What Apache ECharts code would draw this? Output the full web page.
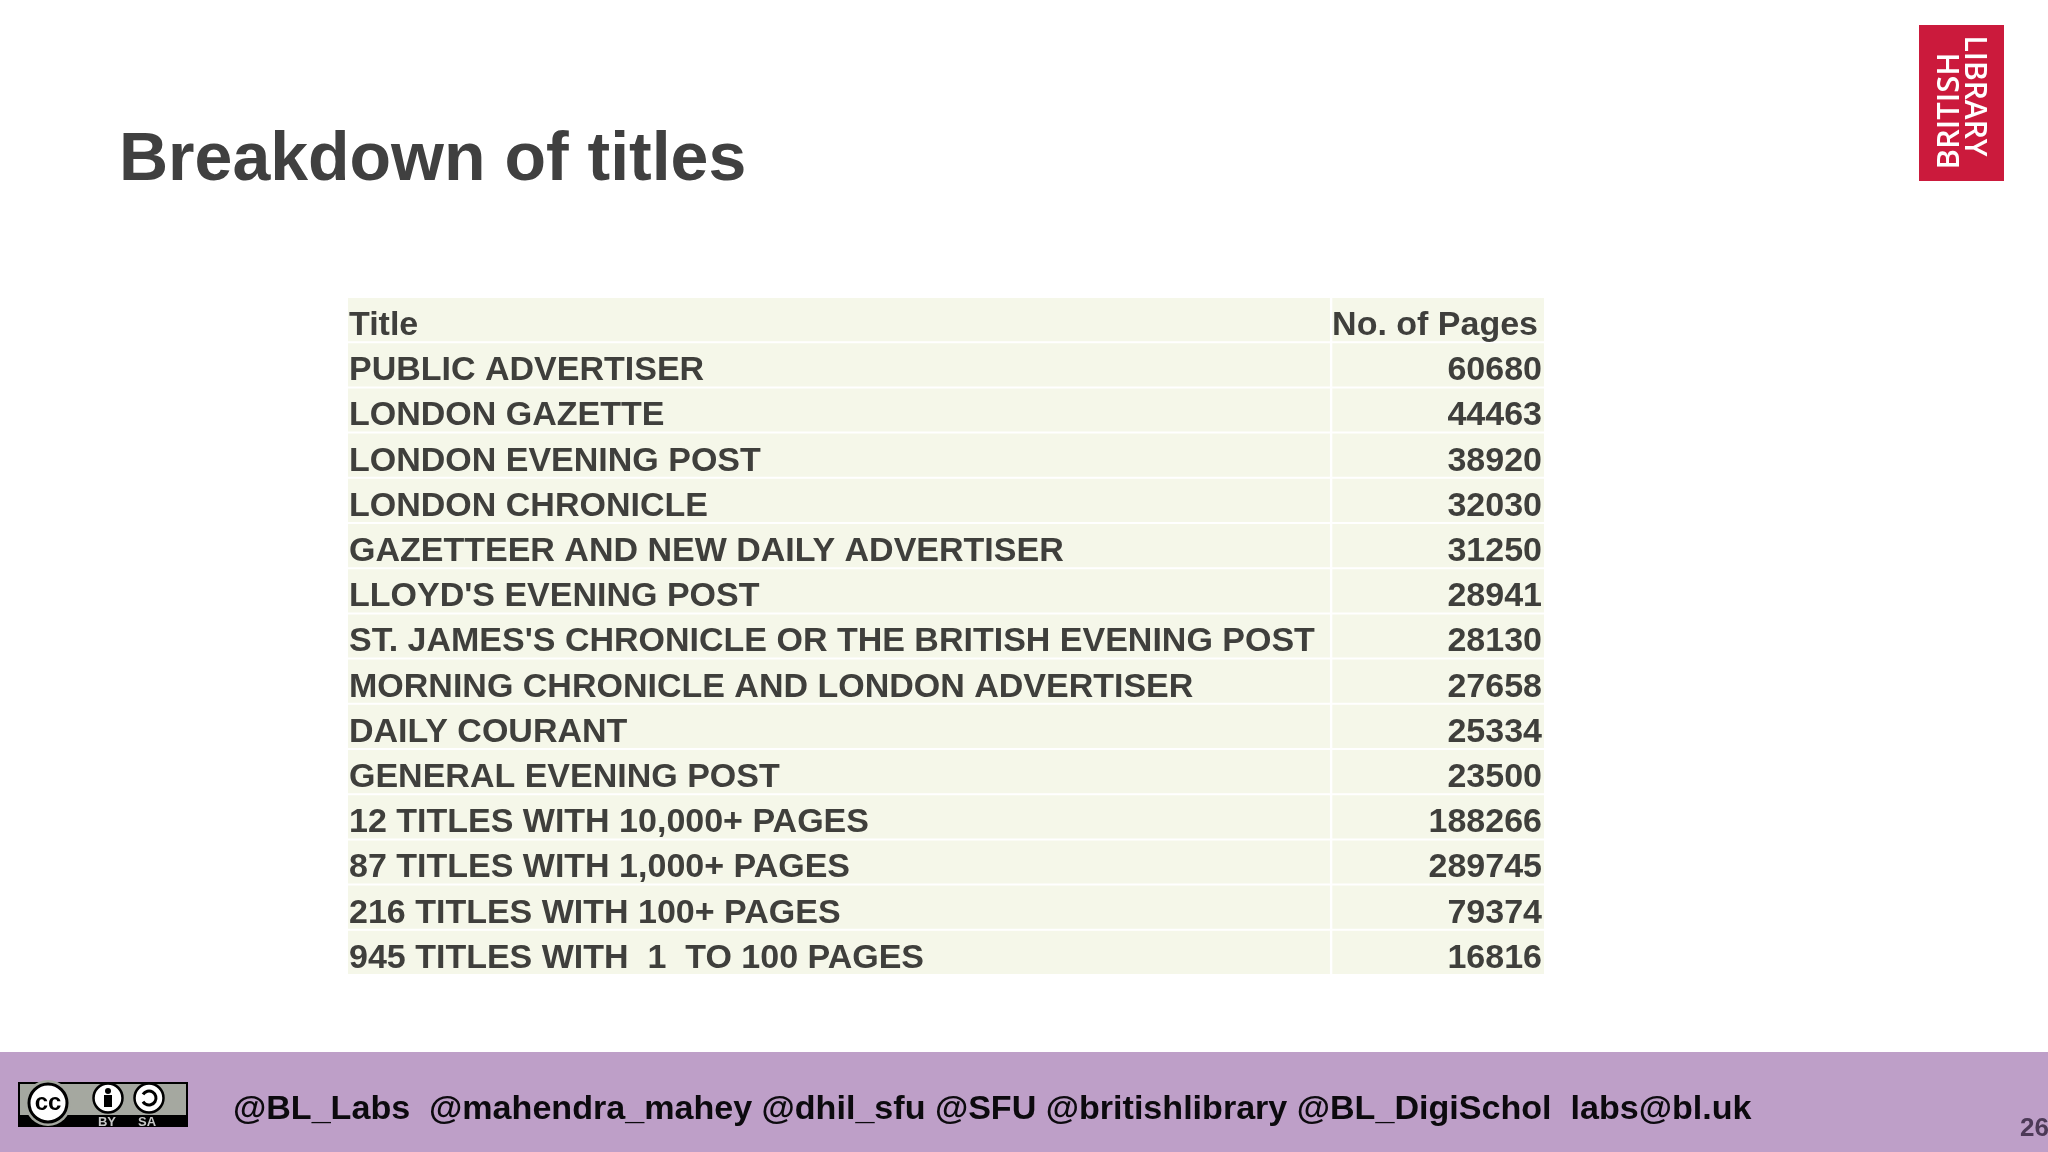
<!DOCTYPE html>
<html>
<head>
<meta charset="utf-8">
<style>html,body{margin:0;background:#fff}#chart{width:2048px;height:1152px}</style>
<script src="https://cdn.jsdelivr.net/npm/echarts@6/dist/echarts.min.js"></script>
</head>
<body>
<div id="chart"></div>
<script>
const header_title = "Title";
const header_pages = "No. of Pages";
const titles = [
    "PUBLIC ADVERTISER",
    "LONDON GAZETTE",
    "LONDON EVENING POST",
    "LONDON CHRONICLE",
    "GAZETTEER AND NEW DAILY ADVERTISER",
    "LLOYD'S EVENING POST",
    "ST. JAMES'S CHRONICLE OR THE BRITISH EVENING POST",
    "MORNING CHRONICLE AND LONDON ADVERTISER",
    "DAILY COURANT",
    "GENERAL EVENING POST",
    "12 TITLES WITH 10,000+ PAGES",
    "87 TITLES WITH 1,000+ PAGES",
    "216 TITLES WITH 100+ PAGES",
    "945 TITLES WITH  1  TO 100 PAGES"
];
const pages = [60680, 44463, 38920, 32030, 31250, 28941, 28130, 27658, 25334, 23500, 188266, 289745, 79374, 16816];

const slide_title = "Breakdown of titles";
const footer_text = "@BL_Labs  @mahendra_mahey @dhil_sfu @SFU @britishlibrary @BL_DigiSchol  labs@bl.uk";
const page_number = "26";

const font = '"Liberation Sans", Arial, sans-serif';
const text_color = "#3f3f3c";
const cell_color = "#f5f7e9";
const split = 0.821; // share of the table width taken by the title column

const rows = [header_title, ...titles];
const col_labels = [header_title, ...titles];
const col_values = [header_pages, ...pages];


// one table column, each row is a cell rect + its text
function cellRenderer(labels, x_from, x_to, align){
    return function(params, api){
        const row = api.value(0);
        const [left, y] = api.coord([x_from, row]);
        const right = api.coord([x_to, row])[0];
        const band = api.size([0, 1])[1];
        const is_header = row === 0 && align === "right";
        return {
            type: "group",
            children: [
                {
                    type: "rect",
                    shape: {x: left, y: y - band / 2, width: right - left, height: band - 2},
                    style: {fill: cell_color}
                },
                {
                    type: "text",
                    style: {
                        x: align === "left" ? left + 1 : right - (is_header ? 6 : 2),
                        y: y + 5,
                        text: String(labels[row]),
                        align: align,
                        verticalAlign: "middle",
                        font: "bold 34px " + font,
                        fill: text_color
                    }
                }
            ]
        };
    };
}


const chart = echarts.init(document.getElementById("chart"), null, {renderer: "canvas"});

chart.setOption({
    animation: false,
    backgroundColor: "#ffffff",
    grid: {left: 348, top: 298, width: 1196, height: 678},
    xAxis: {type: "value", min: 0, max: 1, show: false},
    yAxis: {type: "category", data: rows, inverse: true, show: false},
    series: [
        {
            type: "custom",
            data: rows.map((_, i) => [i]),
            encode: {y: 0},
            renderItem: cellRenderer(col_labels, 0, split, "left"),
            silent: true
        },
        {
            type: "custom",
            data: rows.map((_, i) => [i]),
            encode: {y: 0},
            renderItem: cellRenderer(col_values, split + 0.002, 1, "right"),
            silent: true
        }
    ],
    graphic: [
        // title
        {type: "text", left: 119, top: 127, style: {text: slide_title, font: "bold 68px " + font, fill: "#404040"}},

        // logo
        {type: "rect", shape: {x: 1919, y: 25, width: 85, height: 156}, style: {fill: "#cb1a3c"}},
        {type: "text", x: 1950, y: 111, rotation: Math.PI / 2,
            style: {text: "BRITISH", align: "center", verticalAlign: "middle", font: '600 31px "Open Sans"', fill: "#fff"}},
        {type: "text", x: 1974, y: 96, rotation: -Math.PI / 2,
            style: {text: "LIBRARY", align: "center", verticalAlign: "middle", font: '600 30px "Open Sans"', fill: "#fff"}},

        // footer
        {type: "rect", shape: {x: 0, y: 1052, width: 2048, height: 100}, style: {fill: "#be9fc8"}},
        {type: "text", left: 233, top: 1093, style: {text: footer_text, font: "bold 34.1px " + font, fill: "#0c0a0e"}},
        {type: "text", left: 2020, top: 1116, style: {text: page_number, font: "bold 26px " + font, fill: "#4d3a57"}},

        // cc badge
        {type: "rect", shape: {x: 18, y: 1082, width: 170, height: 45}, style: {fill: "#000"}},
        {type: "rect", shape: {x: 20, y: 1084, width: 166, height: 31}, style: {fill: "#a5a8a0"}},
        {type: "circle", shape: {cx: 48, cy: 1103, r: 23}, style: {fill: "#a5a8a0"}},
        {type: "circle", shape: {cx: 48, cy: 1103, r: 19}, style: {fill: "#fff", stroke: "#000", lineWidth: 3}},
        {type: "text", x: 48, y: 1103, style: {text: "cc", align: "center", verticalAlign: "middle", font: "bold 24px " + font, fill: "#000"}},
        {type: "circle", shape: {cx: 108, cy: 1098, r: 14.5}, style: {fill: "#fff", stroke: "#000", lineWidth: 2.5}},
        {type: "circle", shape: {cx: 108, cy: 1091, r: 3}, style: {fill: "#000"}},
        {type: "rect", shape: {x: 104, y: 1095, width: 8, height: 12}, style: {fill: "#000"}},
        {type: "circle", shape: {cx: 149, cy: 1098, r: 14.5}, style: {fill: "#fff", stroke: "#000", lineWidth: 2.5}},
        {type: "arc", shape: {cx: 149, cy: 1098, r: 7, startAngle: -2.6, endAngle: 2.6}, style: {fill: null, stroke: "#000", lineWidth: 3}},
        {type: "text", x: 107, y: 1122, style: {text: "BY", align: "center", verticalAlign: "middle", font: "bold 13px " + font, fill: "#c8c8c8"}},
        {type: "text", x: 147, y: 1122, style: {text: "SA", align: "center", verticalAlign: "middle", font: "bold 13px " + font, fill: "#c8c8c8"}}
    ]
});
</script>
</body>
</html>
